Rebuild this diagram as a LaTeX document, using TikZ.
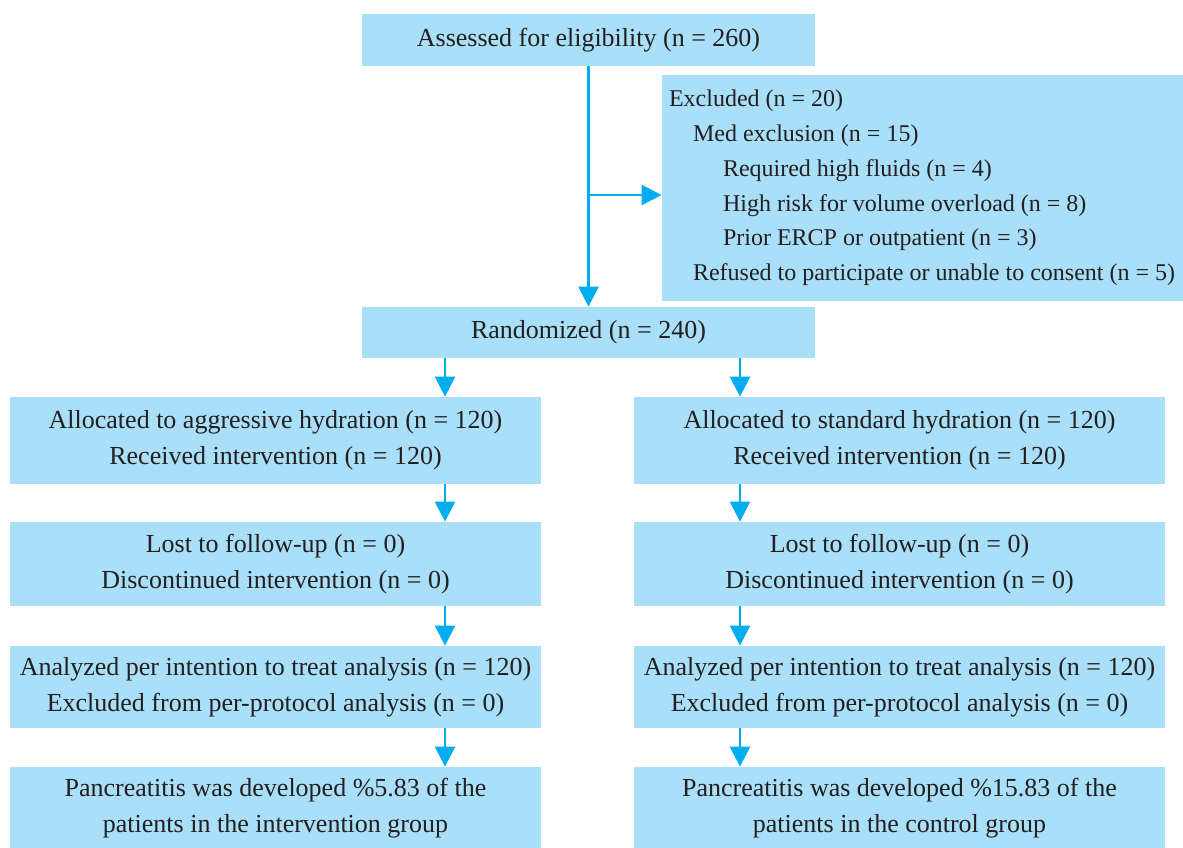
\documentclass[tikz,border=0pt]{standalone}
\usepackage{fontspec}
\setmainfont{Liberation Serif}
\usepackage{xcolor}
\usetikzlibrary{arrows.meta}
\definecolor{boxblue}{HTML}{A9DFF8}
\definecolor{arrowblue}{HTML}{00AEEF}
\definecolor{txtgray}{HTML}{231F20}
\tikzset{
  flowbox/.style={fill=boxblue, text=txtgray, align=center, inner sep=0pt,
    font=\fontsize{13}{18}\selectfont},
  colbox/.style={flowbox, minimum width=265.5pt},
  arr/.style={draw=arrowblue, line width=1.25pt, -{Triangle[width=10pt,length=10pt]}}
}

\begin{document}
\begin{tikzpicture}[x=0.5pt,y=-0.5pt]
    \useasboundingbox (0,0) rectangle (1183,847);
    \clip (0,0) rectangle (1183,847);
    \node[flowbox, minimum width=226.5pt, minimum height=26pt] (assess) at (588.5,40) {Assessed for eligibility (n = 260)};
    \node[flowbox, minimum height=113pt, align=flush left, text width=300pt, inner xsep=3.5pt,
      font=\fontsize{12}{17.4}\selectfont] (excl) at (969,188)
      {Excluded (n = 20)\\
       \hspace*{12pt}Med exclusion (n = 15)\\
       \hspace*{27pt}Required high fluids (n = 4)\\
       \hspace*{27pt}High risk for volume overload (n = 8)\\
       \hspace*{27pt}Prior ERCP or outpatient (n = 3)\\
       \hspace*{12pt}Refused to participate or unable to consent (n = 5)};
    \node[flowbox, minimum width=226.5pt, minimum height=25.5pt] (rand) at (588.5,332.5) {Randomized (n = 240)};
    % left arm
    \node[colbox, minimum height=43.5pt] (aggr) at (275.5,440.5) {Allocated to aggressive hydration (n = 120)\\Received intervention (n = 120)};
    \node[colbox, minimum height=42pt] (lostl) at (275.5,564) {Lost to follow-up (n = 0)\\Discontinued intervention (n = 0)};
    \node[colbox, minimum height=41pt] (anal) at (275.5,687) {Analyzed per intention to treat analysis (n = 120)\\Excluded from per-protocol analysis (n = 0)};
    \node[colbox, minimum height=41pt] (resl) at (275.5,808) {Pancreatitis was developed \%5.83 of the\\patients in the intervention group};
    % right arm
    \node[colbox, minimum height=43.5pt] (stnd) at (899.5,440.5) {Allocated to standard hydration (n = 120)\\Received intervention (n = 120)};
    \node[colbox, minimum height=42pt] (lostr) at (899.5,564) {Lost to follow-up (n = 0)\\Discontinued intervention (n = 0)};
    \node[colbox, minimum height=41pt] (anar) at (899.5,687) {Analyzed per intention to treat analysis (n = 120)\\Excluded from per-protocol analysis (n = 0)};
    \node[colbox, minimum height=41pt] (resr) at (899.5,808) {Pancreatitis was developed \%15.83 of the\\patients in the control group};
    \coordinate (lx) at (445,0);
    \coordinate (rx) at (740,0);
    \coordinate (br) at (588.5,195);
    \draw[arr] (assess.south) -- (rand.north);
    \draw[arr] (br) -- (br -| excl.west);
    \draw[arr] (lx |- rand.south) -- (lx |- aggr.north);
    \draw[arr] (rx |- rand.south) -- (rx |- stnd.north);
    \draw[arr] (lx |- aggr.south) -- (lx |- lostl.north);
    \draw[arr] (lx |- lostl.south) -- (lx |- anal.north);
    \draw[arr] (lx |- anal.south) -- (lx |- resl.north);
    \draw[arr] (rx |- stnd.south) -- (rx |- lostr.north);
    \draw[arr] (rx |- lostr.south) -- (rx |- anar.north);
    \draw[arr] (rx |- anar.south) -- (rx |- resr.north);
\end{tikzpicture}
\end{document}
